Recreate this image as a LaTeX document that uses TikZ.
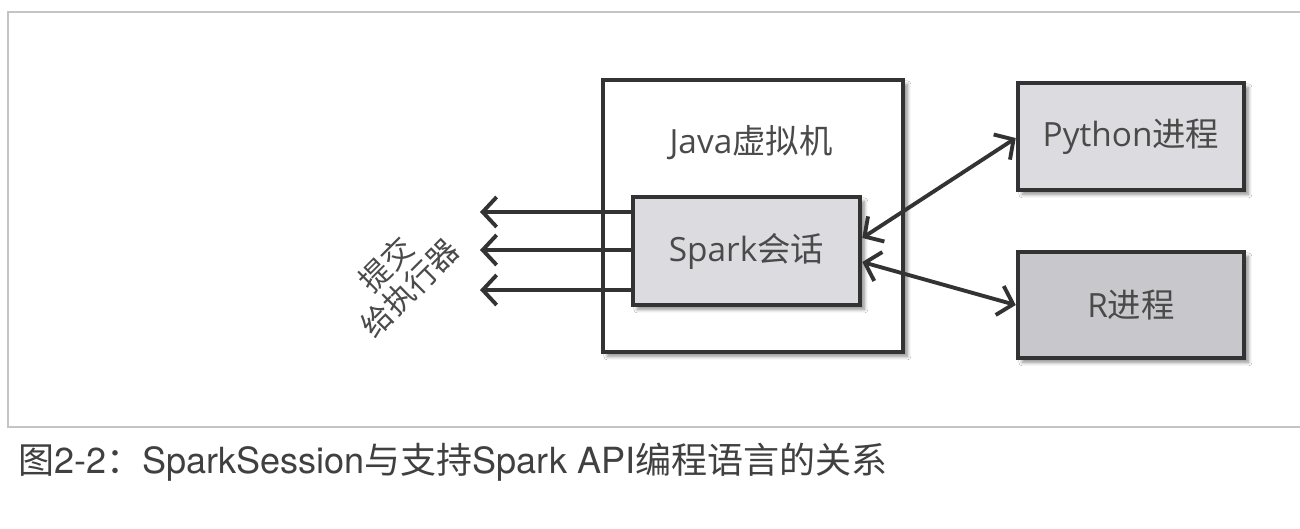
\documentclass[tikz,border=0pt]{standalone}
\usepackage{fontspec}
\setmainfont{Open Sans}
\newfontfamily\cjk{Noto Sans CJK SC}
\newfontfamily\capfont{TeX Gyre Heros}
\usetikzlibrary{arrows.meta,shadows.blur}
\definecolor{boxline}{HTML}{333333}
\definecolor{txt}{HTML}{4A4A4A}
\definecolor{lightfill}{HTML}{DCDCE0}
\definecolor{darkfill}{HTML}{C8C8CC}
\definecolor{frame}{HTML}{C4C4C4}
\begin{document}
\begin{tikzpicture}[x=0.02cm,y=-0.02cm,
  box/.style={draw=boxline,line width=2.6pt,text=txt,font=\fontsize{19}{22}\selectfont,
    blur shadow={shadow xshift=2.5pt,shadow yshift=-2.5pt,shadow blur steps=6,shadow blur radius=2pt,shadow opacity=45},inner sep=0pt},
  arr/.style={draw=boxline,line width=2.2pt,-{Straight Barb[length=2.8mm,width=6mm,line width=2.2pt]}},
  barr/.style={draw=boxline,line width=2.2pt,{Straight Barb[length=2.8mm,width=6mm,line width=2.2pt]}-{Straight Barb[length=2.8mm,width=6mm,line width=2.2pt]}}]
\useasboundingbox (0,0) rectangle (1300,528);
\fill[white] (0,0) rectangle (1300,528);
% outer frame
\draw[frame,line width=0.9pt] (1300,12) -- (8,12) -- (8,427) -- (1300,427);
% JVM box
\node[box,fill=white,minimum width=6cm,minimum height=5.44cm] (jvm) at (753,216) {};
\node[text=txt,font=\fontsize{19}{22}\selectfont] (jvmlabel) at (751,143) {Java{\cjk 虚拟机}};
% Spark session
\node[box,fill=lightfill,minimum width=4.54cm,minimum height=2.16cm] (sp) at (746.5,251) {Spark{\cjk 会话}};
% Python
\node[box,fill=lightfill,minimum width=4.52cm,minimum height=2.14cm] (py) at (1131,136.5) {Python{\cjk 进程}};
% R
\node[box,fill=darkfill,minimum width=4.52cm,minimum height=2.12cm] (r) at (1131,305) {R{\cjk 进程}};
% left arrows
\coordinate (l1) at (480,212);
\coordinate (l2) at (480,250);
\coordinate (l3) at (480,290);
\draw[arr] (sp.west |- l1) -- (l1);
\draw[arr] (sp.west |- l2) -- (l2);
\draw[arr] (sp.west |- l3) -- (l3);
% label
\node[rotate=45,align=center,text=txt,font=\cjk\fontsize{17.5}{19}\selectfont,inner sep=0pt] (submit) at (398,276) {提交\\给执行器};
% right arrows
\coordinate (a1) at (0,238);
\coordinate (b1) at (0,138);
\coordinate (a2) at (0,262);
\coordinate (b2) at (0,305);
\draw[barr] (sp.east |- a1) -- (py.west |- b1);
\draw[barr] (sp.east |- a2) -- (r.west |- b2);
% caption
\node[anchor=west,text=black!75,font=\capfont\fontsize{20.5}{24}\selectfont,inner sep=0pt] (cap) at (18,462) {{\cjk 图}2-2{\cjk ：}SparkSession{\cjk 与支持}Spark API{\cjk 编程语言的关系}};
\end{tikzpicture}
\end{document}
